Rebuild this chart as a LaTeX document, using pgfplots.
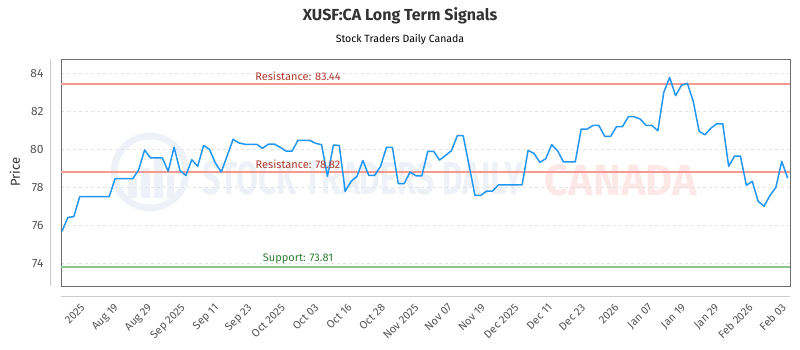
\documentclass[border=0pt]{standalone}
\usepackage{pgfplots}
\pgfplotsset{compat=1.18}
\usepackage{fontspec}
\setmainfont{Fira Sans}
\definecolor{linecol}{HTML}{2196F3}
\definecolor{rescol}{HTML}{F39A93}
\definecolor{restxt}{HTML}{B03A2E}
\definecolor{supcol}{HTML}{8CC68C}
\definecolor{suptxt}{HTML}{2E7D32}
\definecolor{framecol}{HTML}{6E6E6E}
\definecolor{gridcol}{HTML}{E3E3E3}
\definecolor{tickcol}{HTML}{555555}
\definecolor{titlecol}{HTML}{333333}
\definecolor{offcol}{HTML}{CCCCCC}
\definecolor{wmblue}{HTML}{EEF2F8}
\definecolor{wmpink}{HTML}{FDE8E8}
\pgfplotstableread{
i v
0 75.68
1 76.41
2 76.45
3 77.50
4 77.50
5 77.50
6 77.50
7 77.50
8 77.50
9 78.45
10 78.45
11 78.45
12 78.45
13 78.92
14 79.96
15 79.54
16 79.54
17 79.54
18 78.84
19 80.10
20 78.87
21 78.62
22 79.45
23 79.10
24 80.20
25 79.99
26 79.27
27 78.80
28 79.66
29 80.52
30 80.33
31 80.26
32 80.26
33 80.26
34 80.05
35 80.27
36 80.27
37 80.10
38 79.90
39 79.90
40 80.47
41 80.47
42 80.47
43 80.31
44 80.24
45 78.57
46 80.22
47 80.20
48 77.78
49 78.31
50 78.57
51 79.41
52 78.62
53 78.62
54 79.10
55 80.10
56 80.10
57 78.19
58 78.19
59 78.80
60 78.60
61 78.60
62 79.89
63 79.89
64 79.43
65 79.67
66 79.92
67 80.71
68 80.71
69 79.15
70 77.57
71 77.57
72 77.80
73 77.80
74 78.13
75 78.13
76 78.13
77 78.13
78 78.13
79 79.94
80 79.78
81 79.31
82 79.50
83 80.24
84 79.92
85 79.33
86 79.33
87 79.33
88 81.06
89 81.06
90 81.25
91 81.25
92 80.68
93 80.68
94 81.19
95 81.19
96 81.71
97 81.71
98 81.59
99 81.25
100 81.25
101 80.97
102 82.99
103 83.78
104 82.82
105 83.36
106 83.47
107 82.52
108 80.94
109 80.76
110 81.11
111 81.34
112 81.34
113 79.10
114 79.64
115 79.64
116 78.10
117 78.31
118 77.26
119 77.00
120 77.56
121 77.99
122 79.36
123 78.48
}\pricedata
\begin{document}
\begin{tikzpicture}
\useasboundingbox (0pt,0pt) rectangle (800pt,350pt);
% watermark
\draw[wmblue, line width=7pt] (150pt,178pt) circle (36pt);
\fill[wmblue] (128pt,152pt) rectangle (137pt,172pt);
\fill[wmblue] (141pt,152pt) rectangle (150pt,182pt);
\fill[wmblue] (154pt,152pt) rectangle (163pt,192pt);
\fill[wmblue] (167pt,152pt) rectangle (174pt,175pt);
\node[text=wmblue, inner sep=0pt] at (363pt,172pt) {\resizebox{320pt}{33pt}{\bfseries STOCK TRADERS DAILY}};
\node[text=wmpink, inner sep=0pt] at (621pt,170pt) {\resizebox{152pt}{31pt}{\bfseries CANADA}};
% titles
\node[text=titlecol, font=\fontsize{16}{18}\selectfont\bfseries] at (400pt,334pt) {XUSF:CA Long Term Signals};
\node[text=black, font=\fontsize{10.5}{12}\selectfont] at (400pt,310pt) {Stock Traders Daily Canada};
\node[text=titlecol, rotate=90, font=\fontsize{13}{14}\selectfont] at (15pt,178pt) {Price};
\begin{axis}[
  at={(61pt,64pt)}, anchor=south west,
  width=729pt, height=227pt, scale only axis,
  xmin=-0.17, xmax=123.4, ymin=72.8, ymax=84.75,
  axis line style={draw=framecol, line width=0.8pt},
  ytick={74,76,78,80,82,84},
  ymajorgrids, grid style={dashed, gridcol, line width=0.6pt},
  major tick length=0pt,
  xtick={2.88,8.54,14.20,19.85,25.51,31.17,36.83,42.49,48.14,53.80,59.46,65.12,70.78,76.43,82.09,87.75,93.41,99.07,104.72,110.38,116.04,121.70},
  xticklabels={2025,Aug 19,Aug 29,Sep 2025,Sep 11,Sep 23,Oct 2025,Oct 03,Oct 16,Oct 28,Nov 2025,Nov 07,Nov 19,Dec 2025,Dec 11,Dec 23,2026,Jan 07,Jan 19,Jan 29,Feb 2026,Feb 03},
  xticklabel style={yshift=-12pt, xshift=1pt, rotate=45, anchor=north east, font=\fontsize{11}{12}\selectfont, text=tickcol},
  yticklabel style={font=\fontsize{12}{13}\selectfont, text=tickcol, xshift=-14pt},
  /pgf/number format/assume math mode=true,
  clip=false,
]
\addplot[rescol, line width=1.8pt, forget plot] coordinates {(-0.17,83.44) (123.4,83.44)};
\addplot[rescol, line width=1.8pt, forget plot] coordinates {(-0.17,78.82) (123.4,78.82)};
\addplot[supcol, line width=1.8pt, forget plot] coordinates {(-0.17,73.81) (123.4,73.81)};
\addplot[linecol, line width=1.5pt, line join=round] table[x=i, y=v] {\pricedata};
\node[text=restxt, font=\fontsize{11}{12}\selectfont, anchor=south, inner sep=1pt, yshift=2pt] at (axis cs:40,83.44) {Resistance: 83.44};
\node[text=restxt, font=\fontsize{11}{12}\selectfont, anchor=south, inner sep=1pt, yshift=2pt] at (axis cs:40,78.82) {Resistance: 78.82};
\node[text=suptxt, font=\fontsize{11}{12}\selectfont, anchor=south, inner sep=1pt, yshift=2pt] at (axis cs:40,73.81) {Support: 73.81};
\draw[offcol, line width=0.8pt] ([xshift=-11pt]rel axis cs:0,0) -- ([xshift=-11pt]rel axis cs:0,1);
\draw[offcol, line width=0.8pt] ([yshift=-10pt]rel axis cs:0,0) -- ([yshift=-10pt]rel axis cs:1,0);
\end{axis}
\end{tikzpicture}
\end{document}
